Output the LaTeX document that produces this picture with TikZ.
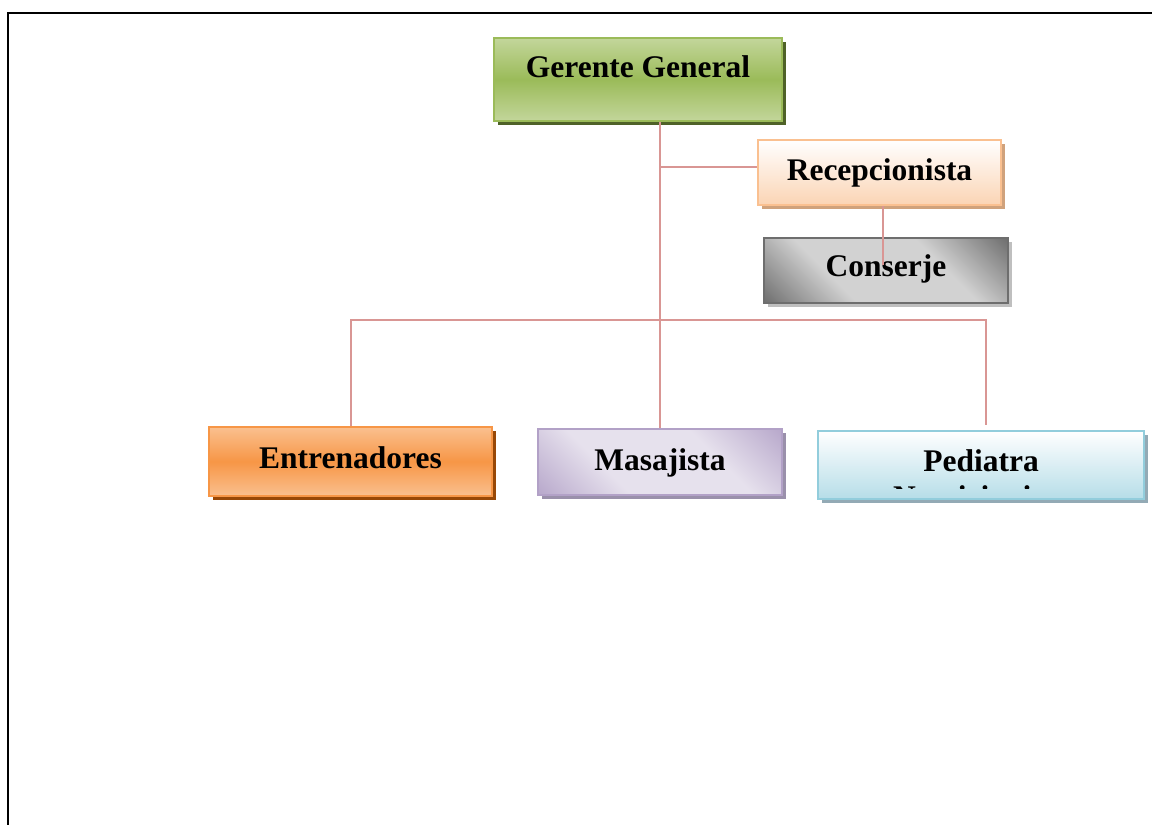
\documentclass[tikz,border=0pt]{standalone}
\usepackage{fontspec}
\setmainfont{Liberation Serif}
\usetikzlibrary{positioning, shadows, calc}
\definecolor{verdeB}{HTML}{9BBB59}
\definecolor{verdeC}{HTML}{C3D69B}
\definecolor{verdeS}{HTML}{4F6228}
\definecolor{durB}{HTML}{FAC090}
\definecolor{durC}{HTML}{FBD4B4}
\definecolor{durS}{HTML}{D0A27C}
\definecolor{grisB}{HTML}{6E6E6E}
\definecolor{grisC}{HTML}{D2D2D2}
\definecolor{grisO}{HTML}{626262}
\definecolor{grisS}{HTML}{BFBFBF}
\definecolor{narB}{HTML}{F79646}
\definecolor{narC}{HTML}{FAC08F}
\definecolor{narS}{HTML}{984807}
\definecolor{lilaB}{HTML}{B2A1C7}
\definecolor{lilaC}{HTML}{E6E1ED}
\definecolor{lilaS}{HTML}{9A90AB}
\definecolor{celB}{HTML}{92CDDC}
\definecolor{celC}{HTML}{B6DDE8}
\definecolor{celS}{HTML}{93AAB5}
\definecolor{rosa}{HTML}{D99694}
\pgfdeclareverticalshading{sombraGris}{100bp}{color(0bp)=(grisO); color(12bp)=(grisO); color(36bp)=(grisC); color(64bp)=(grisC); color(88bp)=(grisO); color(100bp)=(grisO)}
\pgfdeclareverticalshading{sombraLila}{100bp}{color(0bp)=(lilaB); color(12bp)=(lilaB); color(36bp)=(lilaC); color(64bp)=(lilaC); color(88bp)=(lilaB); color(100bp)=(lilaB)}

\begin{document}
\begin{tikzpicture}[x=1pt, y=-1pt,
  font=\fontsize{31.5}{36}\selectfont\bfseries,
  caja/.style={draw, line width=2pt, inner sep=0pt, align=center},
  verde/.style={caja, draw=verdeB, top color=verdeC, bottom color=verdeC, middle color=verdeB,
    general shadow={fill=verdeS, shadow xshift=4pt, shadow yshift=-4pt}},
  durazno/.style={caja, draw=durB, top color=white, bottom color=durC,
    general shadow={fill=durS, shadow xshift=4pt, shadow yshift=-4pt}},
  gris/.style={caja, draw=grisB, shading=sombraGris, shading angle=-45,
    general shadow={fill=grisS, shadow xshift=4pt, shadow yshift=-4pt}},
  naranja/.style={caja, draw=narB, top color=narC, bottom color=narC, middle color=narB,
    general shadow={fill=narS, shadow xshift=4pt, shadow yshift=-4pt}},
  lila/.style={caja, draw=lilaB, shading=sombraLila, shading angle=-45,
    general shadow={fill=lilaS, shadow xshift=4pt, shadow yshift=-4pt}},
  celeste/.style={caja, draw=celB, top color=white, bottom color=celC,
    general shadow={fill=celS, shadow xshift=4pt, shadow yshift=-4pt}},
  lin/.style={draw=rosa, line width=2pt},
]
  \useasboundingbox (0,0) rectangle (1152,825);
  \clip (0,0) rectangle (1152,825);
  \draw[line width=2.5pt] (1170,13) -- (8,13) -- (8,840);

  \node[verde, minimum width=288pt, text height=39.7pt, text depth=43.3pt] (g) at (638,79.5) {Gerente General};
  \node[durazno, minimum width=243pt, text height=40pt, text depth=25pt] (r) at (879.5,172.5) {Recepcionista};
  \node[gris, minimum width=244pt, text height=38.7pt, text depth=26.3pt] (c) at (886,270.5) {Conserje};
  \node[naranja, minimum width=283pt, text height=41pt, text depth=28pt] (e) at (350.5,461.5) {Entrenadores};
  \node[lila, minimum width=244pt, text height=41pt, text depth=25pt] (m) at (660,462) {Masajista};
  \node[celeste, minimum width=326pt, text height=40pt, text depth=28pt] (p) at (981,465) {Pediatra};
  \begin{scope}
    \clip (p.north west) rectangle ($(p.north east)+(0,58.5)$);
    \node[anchor=base] (p2) at (981.5,507) {Nutricionista};
  \end{scope}

  \coordinate (t1) at (660,167);
  \coordinate (t2) at (882.5,265);
  \coordinate (b) at (660,320);
  \coordinate (p1) at (986,425);
  \draw[lin] (m.north) -- (m.north |- g.south);
  \draw[lin] (t1) -- (t1 -| r.west);
  \draw[lin] (t2 |- r.south) -- (t2);
  \draw[lin] (e.north) -- (e.north |- b) -- (p1 |- b) -- (p1);
\end{tikzpicture}
\end{document}
